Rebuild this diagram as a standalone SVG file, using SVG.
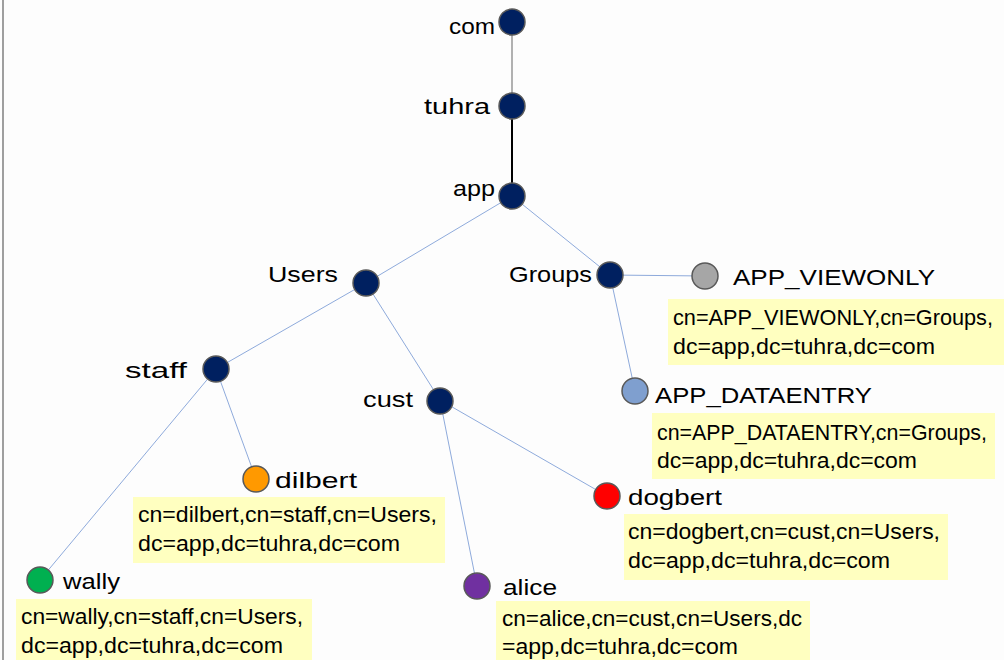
<svg xmlns="http://www.w3.org/2000/svg" width="1004" height="660" viewBox="0 0 1004 660">
<style>
.node{stroke:#595959;stroke-width:1.5}
.dark{fill:#002060}
.lbl{font-family:"Liberation Sans",Arial,sans-serif;font-size:22px;fill:#000}
.dn{font-family:"Liberation Sans",Arial,sans-serif;font-size:22px;fill:#000}
.box{fill:#ffffc0}
.e{stroke:#8eaadb;stroke-width:1;fill:none}
</style>
<rect x="0" y="0" width="1004" height="660" fill="#fdfdfd"/>
<line x1="3" y1="0" x2="3" y2="660" stroke="#7f7f7f" stroke-width="1.5"/>
<g id="connectors">
<line x1="512" y1="22" x2="512" y2="106" stroke="#7f7f7f" stroke-width="1.2"/>
<line x1="512" y1="106" x2="512" y2="196" stroke="#000" stroke-width="2"/>
<line class="e" x1="512" y1="196" x2="366" y2="283"/>
<line class="e" x1="512" y1="196" x2="610" y2="275"/>
<line class="e" x1="610" y1="275" x2="705" y2="276"/>
<line class="e" x1="610" y1="275" x2="635" y2="391"/>
<line class="e" x1="366" y1="283" x2="216" y2="369"/>
<line class="e" x1="366" y1="283" x2="440" y2="400"/>
<line class="e" x1="216" y1="369" x2="40" y2="580"/>
<line class="e" x1="216" y1="369" x2="256" y2="479"/>
<line class="e" x1="440" y1="400" x2="477" y2="586"/>
<line class="e" x1="440" y1="400" x2="607" y2="496"/>
</g>
<g id="com"><circle class="node dark" cx="512" cy="22" r="13"/><text class="lbl" x="449" y="34" textLength="46" lengthAdjust="spacingAndGlyphs">com</text></g>
<g id="tuhra"><circle class="node dark" cx="512" cy="106" r="13"/><text class="lbl" x="424" y="114" textLength="66" lengthAdjust="spacingAndGlyphs">tuhra</text></g>
<g id="app"><circle class="node dark" cx="512" cy="196" r="13"/><text class="lbl" x="453" y="196" textLength="42" lengthAdjust="spacingAndGlyphs">app</text></g>
<g id="Users"><circle class="node dark" cx="366" cy="283" r="13"/><text class="lbl" x="268" y="282" textLength="70" lengthAdjust="spacingAndGlyphs">Users</text></g>
<g id="Groups"><circle class="node dark" cx="610" cy="275" r="13"/><text class="lbl" x="509" y="282" textLength="83" lengthAdjust="spacingAndGlyphs">Groups</text></g>
<g id="staff"><circle class="node dark" cx="216" cy="369" r="13"/><text class="lbl" x="125" y="378" textLength="62" lengthAdjust="spacingAndGlyphs">staff</text></g>
<g id="cust"><circle class="node dark" cx="440" cy="401" r="13"/><text class="lbl" x="363" y="407" textLength="50" lengthAdjust="spacingAndGlyphs">cust</text></g>
<g id="APP_VIEWONLY">
<circle class="node" fill="#a6a6a6" cx="705" cy="276" r="13"/>
<text class="lbl" x="733" y="285" textLength="202" lengthAdjust="spacingAndGlyphs">APP_VIEWONLY</text>
<rect class="box" x="668" y="299" width="336" height="66"/>
<text class="dn" x="673" y="325" textLength="320" lengthAdjust="spacingAndGlyphs">cn=APP_VIEWONLY,cn=Groups,</text>
<text class="dn" x="673" y="354" textLength="262" lengthAdjust="spacingAndGlyphs">dc=app,dc=tuhra,dc=com</text>
</g>
<g id="APP_DATAENTRY">
<circle class="node" fill="#7f9fcf" cx="635" cy="391" r="13"/>
<text class="lbl" x="655" y="403" textLength="217" lengthAdjust="spacingAndGlyphs">APP_DATAENTRY</text>
<rect class="box" x="652" y="413" width="343" height="66"/>
<text class="dn" x="657" y="440" textLength="330" lengthAdjust="spacingAndGlyphs">cn=APP_DATAENTRY,cn=Groups,</text>
<text class="dn" x="657" y="468" textLength="260" lengthAdjust="spacingAndGlyphs">dc=app,dc=tuhra,dc=com</text>
</g>
<g id="dilbert">
<circle class="node" fill="#ff9900" cx="256" cy="479" r="13"/>
<text class="lbl" x="275" y="488" textLength="82" lengthAdjust="spacingAndGlyphs">dilbert</text>
<rect class="box" x="133" y="497" width="312" height="66"/>
<text class="dn" x="138" y="522" textLength="299" lengthAdjust="spacingAndGlyphs">cn=dilbert,cn=staff,cn=Users,</text>
<text class="dn" x="138" y="551" textLength="262" lengthAdjust="spacingAndGlyphs">dc=app,dc=tuhra,dc=com</text>
</g>
<g id="dogbert">
<circle class="node" fill="#ff0000" cx="607" cy="496" r="13"/>
<text class="lbl" x="628" y="505" textLength="94" lengthAdjust="spacingAndGlyphs">dogbert</text>
<rect class="box" x="624" y="514" width="324" height="66"/>
<text class="dn" x="628" y="539" textLength="312" lengthAdjust="spacingAndGlyphs">cn=dogbert,cn=cust,cn=Users,</text>
<text class="dn" x="628" y="568" textLength="262" lengthAdjust="spacingAndGlyphs">dc=app,dc=tuhra,dc=com</text>
</g>
<g id="wally">
<circle class="node" fill="#00b050" cx="40" cy="580" r="13"/>
<text class="lbl" x="63" y="589" textLength="57" lengthAdjust="spacingAndGlyphs">wally</text>
<rect class="box" x="16" y="599" width="296" height="61"/>
<text class="dn" x="21" y="624" textLength="282" lengthAdjust="spacingAndGlyphs">cn=wally,cn=staff,cn=Users,</text>
<text class="dn" x="21" y="653" textLength="262" lengthAdjust="spacingAndGlyphs">dc=app,dc=tuhra,dc=com</text>
</g>
<g id="alice">
<circle class="node" fill="#7030a0" cx="477" cy="586" r="13"/>
<text class="lbl" x="503" y="595" textLength="54" lengthAdjust="spacingAndGlyphs">alice</text>
<rect class="box" x="496" y="601" width="314" height="59"/>
<text class="dn" x="502" y="626" textLength="300" lengthAdjust="spacingAndGlyphs">cn=alice,cn=cust,cn=Users,dc</text>
<text class="dn" x="502" y="654" textLength="236" lengthAdjust="spacingAndGlyphs">=app,dc=tuhra,dc=com</text>
</g>
</svg>
